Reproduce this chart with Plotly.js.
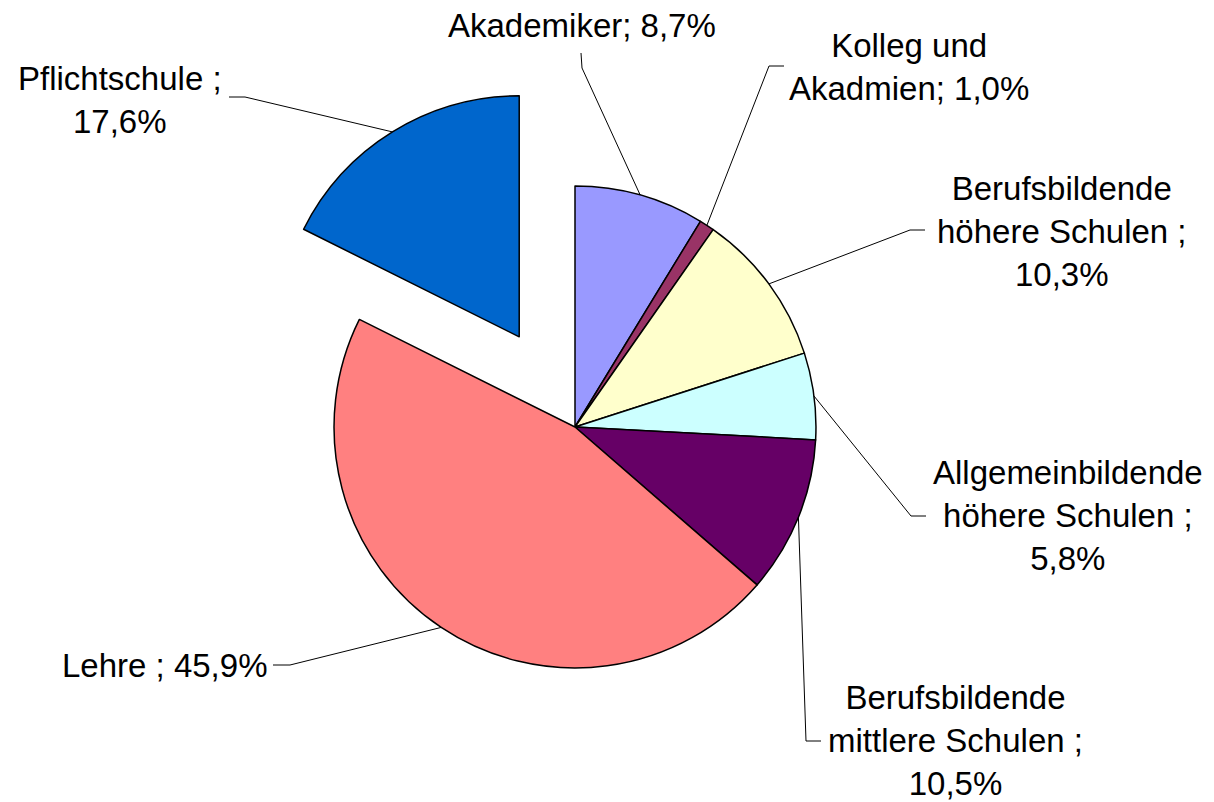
<!DOCTYPE html>
<html>
<head>
<meta charset="utf-8">
<script src="https://cdn.plot.ly/plotly-3.0.1.min.js"></script>
<style>html,body{margin:0;padding:0;background:#fff;}#chart{width:1214px;height:802px;}</style>
</head>
<body>
<div id="chart"></div>
<script>
// ---- data ----
const categories = [
  'Akademiker',
  'Kolleg und Akadmien',
  'Berufsbildende höhere Schulen',
  'Allgemeinbildende höhere Schulen',
  'Berufsbildende mittlere Schulen',
  'Lehre',
  'Pflichtschule'
];
const shares = [8.7, 1.0, 10.3, 5.8, 10.5, 45.9, 17.6];
const labelTexts = [
  'Akademiker; 8,7%',
  'Kolleg und<br>Akadmien; 1,0%',
  'Berufsbildende<br>höhere Schulen ;<br>10,3%',
  'Allgemeinbildende<br>höhere Schulen ;<br>5,8%',
  'Berufsbildende<br>mittlere Schulen ;<br>10,5%',
  'Lehre ; 45,9%',
  'Pflichtschule ;<br>17,6%'
];
const pulledCategory = 'Pflichtschule';

// ---- styles / layout ----
const colors = ['#9999FF', '#993366', '#FFFFCC', '#CCFFFF', '#660066', '#FF8080', '#0066CC'];
const W = 1214, H = 802;
const pullAmount = 0.44;
const domainX = [228 / W, 922 / W];
const domainY = [1 - 774 / H, 1 - 80 / H];
const fontSize = 33;
const fontFamily = 'Liberation Sans, Arial, sans-serif';
// label centre (px) and leader line: label end -> elbow (px)
const labelPos = [
  {x: 582, y: 26, lx: 581, ly: 53, ex: 582, ey: 68},
  {x: 909, y: 67, lx: 784, ly: 66, ex: 769, ey: 66},
  {x: 1062, y: 231, lx: 925, ly: 230, ex: 910, ey: 230},
  {x: 1068, y: 515, lx: 926, ly: 516, ex: 911, ey: 516},
  {x: 955, y: 740, lx: 821, ly: 741, ex: 806, ey: 741},
  {x: 164, y: 665, lx: 273, ly: 665, ex: 290, ey: 665},
  {x: 120, y: 100, lx: 229, ly: 97, ex: 245, ey: 97}
];

const pulls = categories.map(c => c === pulledCategory ? pullAmount : 0);

// geometry like Plotly's pie scaling
const boxW = W * (domainX[1] - domainX[0]);
const boxH = H * (domainY[1] - domainY[0]);
const maxPull = Math.max(...pulls);
const R = Math.min(boxW, boxH) / 2 / (1 + maxPull);
const CX = W * (domainX[0] + domainX[1]) / 2;
const CY = H * (1 - domainY[0]) - boxH / 2;
const total = shares.reduce((a, b) => a + b, 0);

const px = x => x / W;
const py = y => 1 - y / H;

const shapes = [];
const annotations = [];
let cum = 0;
shares.forEach((v, i) => {
  const mid = (cum + v / 2) / total * 2 * Math.PI;
  cum += v;
  const s = Math.sin(mid), c = -Math.cos(mid);
  const ox = CX + pulls[i] * R * s, oy = CY + pulls[i] * R * c;
  const ax = ox + R * s, ay = oy + R * c;
  const p = labelPos[i];
  shapes.push({
    type: 'path', xref: 'paper', yref: 'paper',
    path: `M ${px(p.lx)} ${py(p.ly)} L ${px(p.ex)} ${py(p.ey)} L ${px(ax)} ${py(ay)}`,
    line: {color: '#000', width: 1}
  });
  annotations.push({
    xref: 'paper', yref: 'paper', x: px(p.x), y: py(p.y),
    xanchor: 'center', yanchor: 'middle', showarrow: false,
    text: labelTexts[i], align: 'center',
    font: {family: fontFamily, size: fontSize, color: '#000'}
  });
});

const trace = {
  type: 'pie',
  labels: categories,
  values: shares,
  sort: false,
  direction: 'clockwise',
  rotation: 0,
  pull: pulls,
  marker: {colors: colors, line: {color: '#000', width: 1.5}},
  textinfo: 'none',
  hoverinfo: 'label+percent',
  domain: {x: domainX, y: domainY},
  showlegend: false
};

Plotly.newPlot('chart', [trace], {
  width: W, height: H,
  margin: {l: 0, r: 0, t: 0, b: 0},
  paper_bgcolor: '#fff',
  showlegend: false,
  shapes: shapes,
  annotations: annotations
}, {displayModeBar: false, staticPlot: true});
</script>
</body>
</html>
